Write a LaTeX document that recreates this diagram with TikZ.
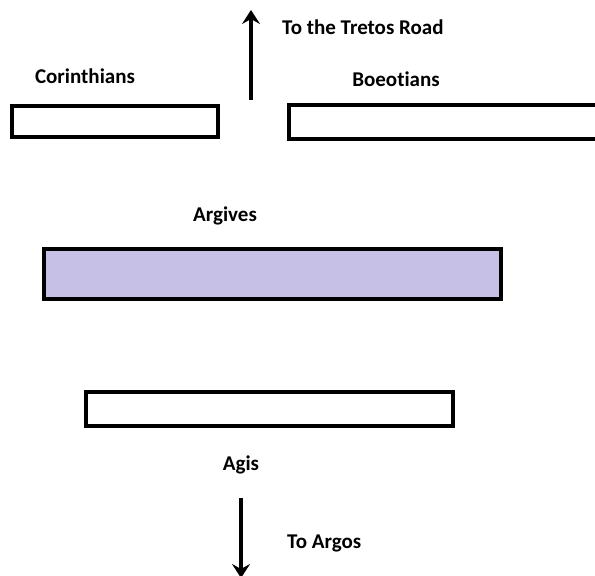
\documentclass[tikz,border=0pt]{standalone}
\usepackage{fontspec}
\setmainfont{Carlito}[Ligatures=NoCommon]
\usepackage{tikz}
\usetikzlibrary{arrows.meta}
\tikzset{>={Stealth[length=14pt,width=18pt,inset=5pt]}}
\definecolor{ArgivePurple}{HTML}{C6BFE6}
\tikzset{
    lbl/.style={font=\bfseries\fontsize{21}{24}\selectfont, inner sep=0pt},
    troop/.style={line width=3.5pt, fill=white},
    road/.style={->, line width=3.5pt}
}

\begin{document}
\begin{tikzpicture}[x=1pt,y=-1pt]
                \useasboundingbox (0,0) rectangle (595,576);
                \filldraw[troop] (12,106) rectangle (218,137);
                \filldraw[troop] (289,105) rectangle (610,139);
                \filldraw[troop, fill=ArgivePurple] (44,249) rectangle (501,299);
                \filldraw[troop] (86,392) rectangle (453,426);
                \node[lbl] (corinth) at (85,76) {Corinthians};
                \node[lbl] (boeot) at (396,79) {Boeotians};
                \node[lbl] (argives) at (225,216) {Argives};
                \node[lbl] (agis) at (241,465) {Agis};
                \node[lbl, anchor=west] (tretos) at (282,27) {To the Tretos Road};
                \node[lbl, anchor=west] (argos) at (287,543) {To Argos};
                \coordinate (northfrom) at (251,100);
                \coordinate (northto) at (251,10);
                \coordinate (southfrom) at (241,498);
                \coordinate (southto) at (241,578);
                \draw[road] (northfrom)--(northto);
                \draw[road] (southfrom)--(southto);
            \end{tikzpicture}
\end{document}
